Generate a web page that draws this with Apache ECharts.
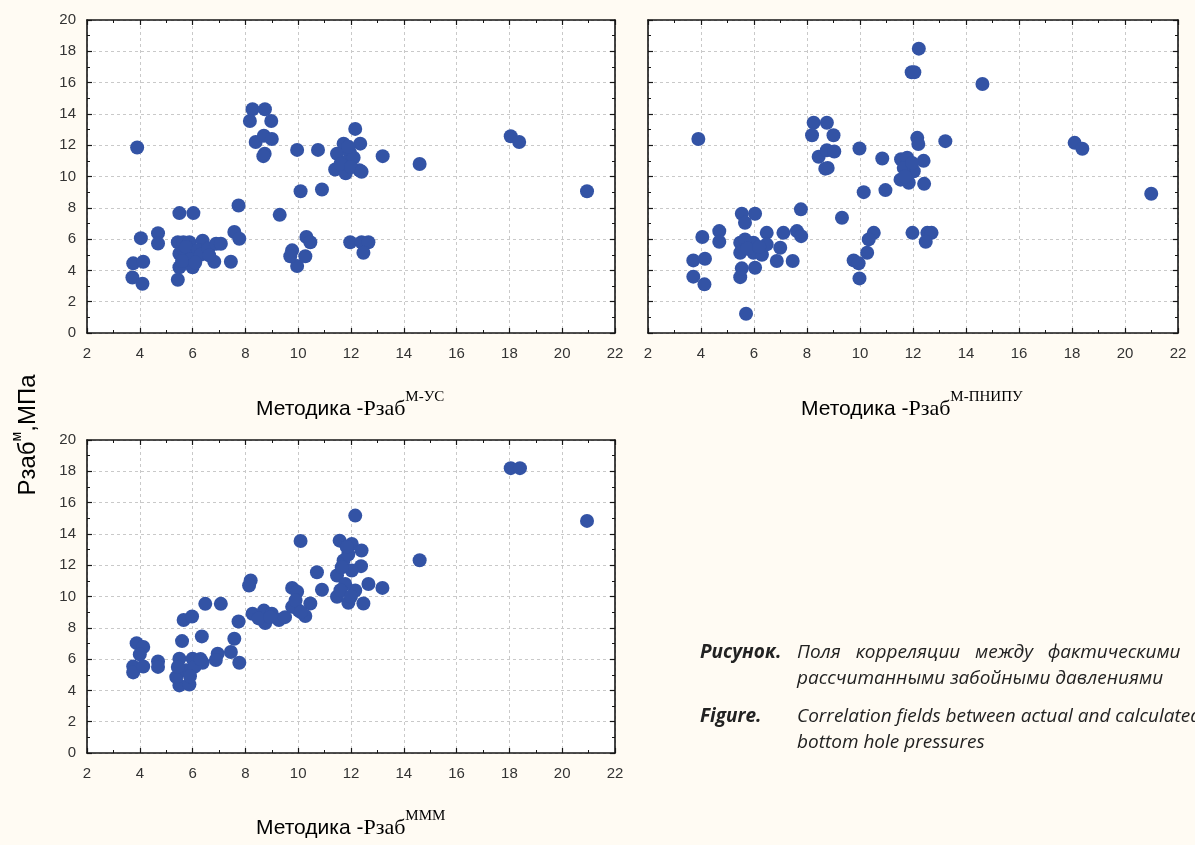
<!DOCTYPE html>
<html><head><meta charset="utf-8">
<script src="https://cdn.jsdelivr.net/npm/echarts@6/dist/echarts.min.js"></script>
<style>html,body{margin:0;padding:0;background:#fffbf3}#c{width:1195px;height:845px}</style>
</head><body><div id="c"></div><script>
// Panel 1: Методика М-УС (x = calculated, y = actual)
const dataMUS = [[3.9,11.85],[3.75,4.45],[4.13,4.55],[3.72,3.55],[4.1,3.15],[4.04,6.06],[4.69,6.38],[4.69,5.72],
[5.5,7.66],[6.03,7.66],[5.44,5.8],[5.65,5.8],[5.88,5.8],[6.38,5.9],[5.5,5.06],[5.7,5.2],[6.0,5.06],[5.5,4.2],[6.0,4.2],[5.44,3.4],[5.76,5.5],[6.2,5.3],[5.9,4.7],[6.3,5.0],[6.6,5.4],[6.89,5.7],[7.07,5.7],[6.82,4.55],[7.45,4.55],[6.63,4.96],[5.6,4.6],[6.1,4.5],
[7.58,6.45],[7.77,6.02],[7.74,8.15],
[8.27,14.3],[8.74,14.3],[8.17,13.55],[8.98,13.55],[8.39,12.2],[8.7,12.6],[9.0,12.4],[8.73,11.45],[8.68,11.3],
[9.3,7.55],[9.96,11.7],[10.75,11.7],[10.09,9.06],[10.9,9.17],
[9.77,5.28],[9.96,4.28],[10.27,4.9],[10.31,6.13],[10.46,5.8],[9.7,4.9],
[12.16,13.04],[11.72,12.1],[12.35,12.1],[11.47,11.45],[11.95,11.55],[11.78,10.9],[11.4,10.45],[11.8,10.2],[12.32,10.4],[12.1,11.2],[11.6,10.8],[12.0,10.6],[11.9,11.9],[12.4,10.3],
[13.2,11.3],[14.6,10.8],
[11.97,5.8],[12.4,5.8],[12.66,5.8],[12.47,5.13],
[18.05,12.57],[18.37,12.2],[20.94,9.06]];
// Panel 2: Методика М-ПНИПУ
const dataMPNIPU = [[3.9,12.4],[4.05,6.13],[3.71,4.64],[4.15,4.74],[3.71,3.6],[4.13,3.11],[4.69,6.51],[4.69,5.83],
[5.54,7.62],[6.04,7.62],[5.66,7.04],[5.48,5.77],[5.98,5.77],[5.48,5.13],[5.98,5.13],[5.66,5.98],[6.48,6.4],[7.11,6.4],[6.99,5.45],[6.86,4.6],[7.46,4.6],[6.04,4.17],[5.48,3.57],[5.54,4.13],[7.62,6.51],[7.78,6.19],[6.3,5.0],[6.48,5.66],[5.75,5.4],[6.2,5.5],[5.7,1.23],
[7.77,7.9],
[8.25,13.43],[8.75,13.43],[8.19,12.64],[9.0,12.64],[8.44,11.26],[8.75,11.68],[9.03,11.6],[8.78,10.55],[8.69,10.5],
[9.32,7.36],[9.98,11.79],[10.84,11.15],[10.14,9.0],[10.96,9.13],
[10.52,6.4],[10.33,5.98],[10.27,5.13],[9.76,4.64],[9.95,4.45],[9.98,3.49],
[12.22,18.17],[11.95,16.66],[12.05,16.66],
[12.16,12.47],[12.2,12.08],[11.55,11.1],[11.78,11.2],[12.4,11.0],[11.53,9.8],[11.84,9.6],[12.42,9.53],[12.03,10.34],[11.65,10.55],[11.97,10.87],[11.7,10.0],
[13.22,12.26],[14.62,15.91],
[11.98,6.4],[12.54,6.4],[12.7,6.4],[12.48,5.83],
[18.1,12.15],[18.39,11.77],[20.99,8.9]];
// Panel 3: Методика МММ
const dataMMM = [[3.88,7.02],[4.13,6.77],[4.0,6.3],[3.75,5.53],[3.75,5.15],[4.13,5.53],[4.69,5.85],[4.69,5.5],
[5.5,6.02],[6.0,6.02],[6.38,5.77],[6.95,6.34],[6.88,5.94],[5.5,4.32],[5.88,4.38],[5.38,4.85],[5.76,5.28],[6.07,5.5],[5.44,5.5],[5.9,4.9],[6.3,6.0],
[5.6,7.15],[6.35,7.45],[7.58,7.3],[7.45,6.45],[7.77,5.77],
[5.66,8.5],[5.98,8.72],[6.48,9.53],[7.07,9.53],[7.74,8.4],
[8.2,11.02],[8.14,10.7],
[8.27,8.9],[8.7,9.1],[9.0,8.9],[9.27,8.5],[8.75,8.3],[8.5,8.6],[8.94,8.68],[9.5,8.68],
[9.77,10.55],[9.96,10.3],[10.46,9.55],[10.27,8.75],[10.02,9.1],[9.77,9.34],[9.9,9.74],[10.1,9.0],
[10.09,13.55],[10.71,11.55],[10.9,10.43],
[11.57,13.57],[12.03,13.36],[12.4,12.94],[12.38,11.94],[11.47,11.34],[12.66,10.8],[11.47,9.98],[11.9,9.6],[12.47,9.55],[12.16,10.38],[11.78,10.8],[11.72,12.3],[11.9,12.7],[12.03,11.66],[11.65,11.87],[11.84,13.17],[11.6,10.4],[12.0,10.0],
[12.16,15.17],[13.19,10.55],[14.6,12.32],
[18.05,18.2],[18.4,18.2],[20.94,14.83]];

const xRange = {min: 2, max: 22, interval: 2};
const yRange = {min: 0, max: 20, interval: 2};
const panelNames = ['М-УС', 'М-ПНИПУ', 'МММ'];

const AX = '#161616';
function xAxes(gi) {
  const base = {type:'value', gridIndex:gi, min:xRange.min, max:xRange.max, interval:xRange.interval,
    axisLine:{show:true,onZero:false,lineStyle:{color:AX,width:1.6}},
    axisTick:{show:true,inside:true,length:5,lineStyle:{color:AX,width:1.2}},
    minorTick:{show:true,splitNumber:2,length:3,lineStyle:{color:AX,width:1}}};
  return [
    Object.assign({}, base, {position:'bottom',
      splitLine:{show:true,lineStyle:{type:[3,3],color:'#c9c9c9',width:1}},
      axisLabel:{show:true,fontSize:15,color:'#333',margin:13,fontFamily:'Liberation Sans, Arial'}}),
    Object.assign({}, base, {position:'top', splitLine:{show:false}, axisLabel:{show:false}})
  ];
}
function yAxes(gi, labels) {
  const base = {type:'value', gridIndex:gi, min:yRange.min, max:yRange.max, interval:yRange.interval,
    axisLine:{show:true,onZero:false,lineStyle:{color:AX,width:1.6}},
    axisTick:{show:true,inside:true,length:5,lineStyle:{color:AX,width:1.2}},
    minorTick:{show:true,splitNumber:2,length:3,lineStyle:{color:AX,width:1}}};
  return [
    Object.assign({}, base, {position:'left',
      splitLine:{show:true,lineStyle:{type:[3,3],color:'#c9c9c9',width:1}},
      axisLabel:{show:labels,fontSize:15,color:'#333',margin:11,fontFamily:'Liberation Sans, Arial'}}),
    Object.assign({}, base, {position:'right', splitLine:{show:false}, axisLabel:{show:false}})
  ];
}

const grids = [
  {left:87, top:20, width:528, height:313},
  {left:648, top:20, width:530, height:313},
  {left:87, top:440, width:528, height:313}
].map(g => Object.assign({show:true, backgroundColor:'#ffffff', borderWidth:0, containLabel:false}, g));

const xAxis = [].concat(xAxes(0), xAxes(1), xAxes(2));
const yAxis = [].concat(yAxes(0,true), yAxes(1,false), yAxes(2,true));
const datasets = [dataMUS, dataMPNIPU, dataMMM];
const series = datasets.map((d,i) => ({
  type:'scatter', xAxisIndex:i*2, yAxisIndex:i*2, data:d, symbol:'circle', symbolSize:14,
  itemStyle:{color:'#3353a5', opacity:1}, silent:true, animation:false
}));

const richName = {
  a:{fontFamily:'Liberation Sans, Arial', fontSize:21, color:'#222', lineHeight:30, verticalAlign:'bottom'},
  b:{fontFamily:'Liberation Serif, Times New Roman', fontSize:22, color:'#222', lineHeight:30, verticalAlign:'bottom'},
  s:{fontFamily:'Liberation Serif, Times New Roman', fontSize:15, color:'#222', lineHeight:12, verticalAlign:'top'}
};
function axisName(x, yTop, sup) {
  return {type:'text', left:x, top:yTop, silent:true,
    style:{text:'{a|Методика -}{b|Рзаб}{s|' + sup + '}', rich:richName}};
}
const capFont = 'Open Sans, Noto Sans, sans-serif';
function cap(x, y, txt, bold) {
  return {type:'text', x:x, y:y, silent:true,
    style:{text:txt, fontFamily:capFont, fontSize:19, fontStyle:'italic', fontWeight:bold?'bold':'normal',
      fill:'#222', textVerticalAlign:'middle', textAlign:'left'}};
}

const option = {
  backgroundColor:'#fffbf3',
  animation:false,
  grid: grids, xAxis: xAxis, yAxis: yAxis, series: series,
  graphic: [
    axisName(256, 390, panelNames[0]),
    axisName(801, 390, panelNames[1]),
    axisName(256, 809, panelNames[2]),
    {type:'text', x:25, y:435, rotation:Math.PI/2, silent:true,
      style:{text:'{a|Рзаб}{s|м}{a|,МПа}', textAlign:'center', textVerticalAlign:'middle',
        rich:{a:{fontFamily:'Liberation Sans, Arial', fontSize:24, color:'#222', lineHeight:30, verticalAlign:'bottom'},
              s:{fontFamily:'Liberation Sans, Arial', fontSize:14, color:'#222', lineHeight:14, verticalAlign:'top'}}}},
    cap(700, 653, 'Рисунок.', true),
    cap(797, 653, 'Поля   корреляции   между   фактическими   и', false),
    cap(797, 679, 'рассчитанными забойными давлениями', false),
    cap(700, 717, 'Figure.', true),
    cap(797, 717, 'Correlation fields between actual and calculated', false),
    cap(797, 743, 'bottom hole pressures', false)
  ]
};
const chart = echarts.init(document.getElementById('c'), null, {renderer:'canvas'});
chart.setOption(option);
</script></body></html>
